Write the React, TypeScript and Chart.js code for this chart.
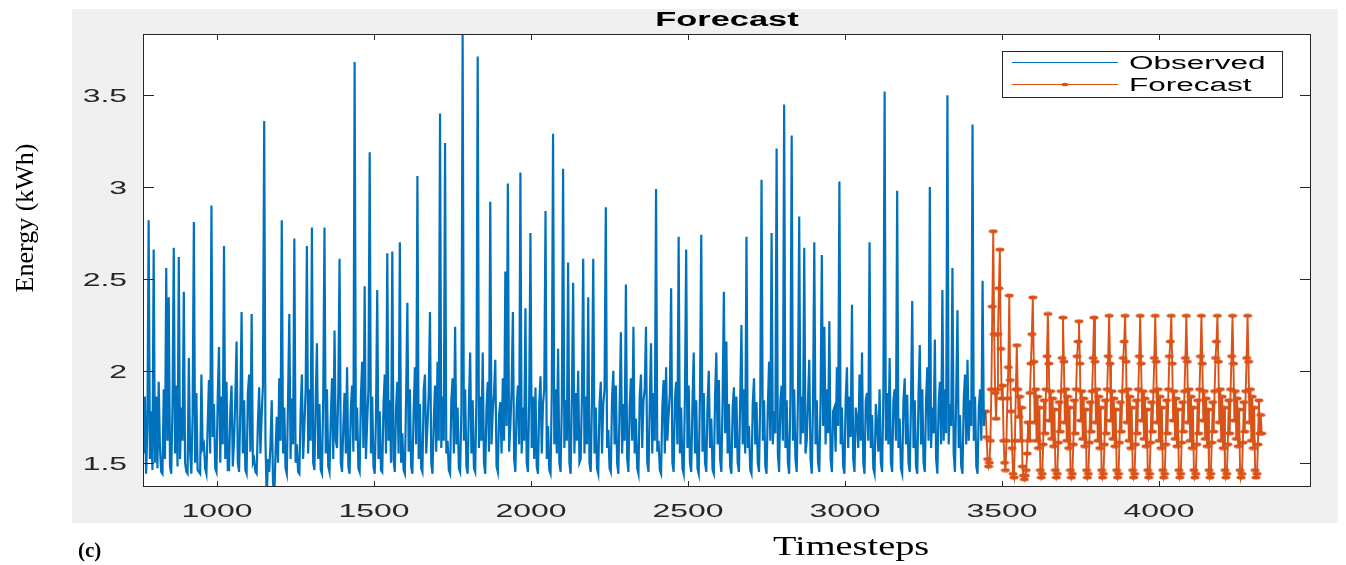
import React, { useEffect, useRef } from "react";
import { Chart, registerables } from "chart.js";
Chart.register(...registerables);

// Observed series: timestep = OBS_START + i * OBS_STEP
const OBS_START = 766;
const OBS_STEP = 4;
const observed = [
  1.55, 1.86, 1.44, 1.70, 2.82, 1.52, 1.78, 1.46, 2.66, 1.50, 1.86, 1.47, 1.94, 1.58, 1.45, 1.44, 1.90, 1.52, 2.56, 1.62,
  2.40, 1.48, 1.44, 1.82, 2.67, 1.55, 1.92, 1.48, 2.62, 1.52, 1.80, 1.62, 2.43, 1.50, 1.45, 1.44, 2.07, 1.56, 1.44, 1.76,
  2.81, 1.50, 1.88, 1.46, 1.45, 1.44, 1.98, 1.58, 1.60, 1.47, 1.44, 1.70, 1.95, 1.55, 2.90, 1.64, 1.82, 1.47, 1.45, 1.86,
  2.13, 1.50, 1.86, 1.60, 2.68, 1.52, 1.94, 1.46, 1.46, 1.78, 1.92, 1.48, 1.62, 1.85, 2.16, 1.50, 1.45, 1.80, 2.32, 1.55,
  1.84, 1.46, 1.44, 1.88, 1.98, 1.56, 2.31, 1.50, 1.52, 1.45, 1.44, 1.72, 1.91, 1.55, 1.76, 1.92, 3.36, 1.62, 1.30, 1.52,
  1.45, 1.60, 1.84, 1.40, 1.30, 1.55, 1.75, 1.50, 1.96, 1.62, 2.82, 1.55, 1.80, 1.47, 1.44, 1.85, 2.31, 1.52, 1.85, 1.60,
  2.72, 1.50, 1.60, 1.45, 1.44, 1.78, 1.98, 1.52, 1.70, 1.90, 2.68, 1.55, 1.90, 1.62, 2.78, 1.50, 1.46, 1.84, 2.15, 1.52,
  1.82, 1.46, 1.44, 1.86, 2.78, 1.55, 1.90, 1.48, 1.45, 1.74, 1.96, 1.52, 2.22, 1.62, 1.58, 1.88, 2.61, 1.50, 1.45, 1.70,
  1.88, 1.55, 2.02, 1.48, 1.44, 1.80, 1.92, 1.56, 3.68, 1.62, 1.80, 1.47, 1.45, 1.86, 2.05, 1.58, 2.46, 1.52, 1.72, 1.90,
  3.19, 1.55, 1.86, 1.48, 1.44, 1.75, 2.44, 1.52, 1.78, 1.46, 1.45, 1.82, 1.98, 1.55, 2.64, 1.62, 1.84, 1.50, 2.65, 1.52,
  1.45, 1.80, 1.94, 1.55, 2.70, 1.50, 1.66, 1.46, 1.44, 1.86, 2.37, 1.56, 1.90, 1.48, 1.44, 1.78, 2.02, 1.60, 3.06, 1.52,
  1.82, 1.47, 1.45, 1.90, 1.98, 1.55, 1.70, 1.88, 2.32, 1.50, 1.44, 1.72, 1.92, 1.56, 2.05, 1.62, 3.40, 1.58, 1.86, 1.62,
  3.24, 1.55, 1.62, 1.46, 1.44, 1.84, 1.96, 1.55, 2.24, 1.60, 1.80, 1.47, 1.45, 1.78, 3.83, 1.62, 1.90, 1.48, 1.44, 1.82,
  2.10, 1.55, 1.84, 1.47, 1.45, 1.86, 3.71, 1.58, 1.86, 1.62, 2.10, 1.50, 1.44, 1.80, 1.94, 1.56, 2.92, 1.60, 1.78, 1.88,
  2.06, 1.48, 1.45, 1.76, 1.83, 1.55, 1.96, 1.62, 2.54, 1.70, 3.02, 1.56, 1.70, 1.90, 2.32, 1.52, 1.45, 1.80, 1.92, 1.60,
  3.08, 1.55, 1.80, 1.62, 2.34, 1.50, 1.45, 1.84, 2.75, 1.58, 1.86, 1.52, 1.91, 1.48, 1.44, 1.82, 1.97, 1.55, 1.82, 1.90,
  2.87, 1.52, 1.70, 1.46, 1.44, 1.88, 3.29, 1.60, 1.90, 1.55, 2.12, 1.50, 1.45, 1.82, 3.10, 1.58, 1.84, 1.62, 2.59, 1.50,
  1.44, 1.86, 2.48, 1.55, 1.88, 1.62, 2.00, 1.50, 1.52, 1.86, 2.61, 1.55, 1.86, 1.60, 2.40, 1.50, 1.45, 1.84, 2.61, 1.55,
  1.80, 1.47, 1.44, 1.82, 1.94, 1.55, 1.82, 1.90, 2.89, 1.58, 1.68, 1.47, 1.45, 1.86, 2.00, 1.60, 1.92, 1.50, 1.44, 1.80,
  2.21, 1.55, 1.82, 1.62, 2.47, 1.52, 1.45, 1.80, 1.96, 1.62, 2.24, 1.55, 1.74, 1.47, 1.44, 1.86, 1.98, 1.58, 1.84, 1.90,
  2.24, 1.50, 1.45, 1.82, 2.15, 1.55, 1.88, 1.62, 2.99, 1.56, 1.62, 1.46, 1.44, 1.80, 1.95, 1.55, 2.02, 1.62, 1.76, 1.88,
  2.45, 1.50, 1.45, 1.84, 1.94, 1.60, 2.73, 1.55, 1.80, 1.47, 1.44, 1.86, 2.66, 1.58, 1.92, 1.50, 1.45, 1.82, 2.10, 1.55,
  1.84, 1.47, 1.44, 1.88, 2.74, 1.56, 1.88, 1.50, 1.45, 1.82, 2.00, 1.58, 1.74, 1.46, 1.44, 1.86, 2.10, 1.60, 1.95, 1.52,
  1.45, 1.84, 2.43, 1.66, 2.16, 1.55, 1.82, 1.48, 1.44, 1.80, 1.91, 1.58, 1.86, 1.50, 1.45, 1.84, 2.25, 1.60, 1.90, 1.55,
  2.73, 1.58, 1.70, 1.46, 1.44, 1.82, 1.96, 1.60, 1.83, 1.50, 1.45, 1.86, 3.04, 1.62, 1.84, 1.48, 1.44, 1.80, 2.05, 1.62,
  2.75, 1.60, 1.78, 1.66, 3.21, 1.55, 1.45, 1.84, 1.92, 1.62, 3.45, 1.58, 1.84, 1.50, 1.44, 1.86, 3.28, 1.62, 1.90, 1.52,
  1.45, 1.86, 2.84, 1.60, 1.86, 1.66, 2.67, 1.55, 1.62, 1.84, 2.06, 1.52, 1.44, 1.82, 2.70, 1.60, 1.84, 1.50, 1.45, 1.84,
  2.63, 1.70, 2.24, 1.60, 1.90, 1.66, 2.27, 1.52, 1.45, 1.78, 1.80, 1.56, 2.02, 1.70, 3.03, 1.60, 1.80, 1.48, 1.44, 1.84,
  2.02, 1.58, 1.86, 1.64, 2.36, 1.52, 1.45, 1.80, 1.74, 1.58, 1.98, 1.62, 2.10, 1.50, 1.44, 1.84, 1.88, 1.62, 2.70, 1.58,
  1.76, 1.47, 1.44, 1.82, 1.71, 1.56, 1.90, 1.50, 1.45, 1.86, 3.52, 1.62, 1.88, 1.60, 2.07, 1.50, 1.45, 1.84, 1.90, 1.62,
  2.98, 1.58, 1.74, 1.47, 1.44, 1.84, 1.96, 1.60, 1.87, 1.50, 1.45, 1.82, 2.38, 1.58, 1.84, 1.48, 1.44, 1.86, 2.14, 1.60,
  1.90, 1.50, 1.45, 1.84, 2.02, 1.62, 3.00, 1.58, 1.80, 1.66, 2.17, 1.52, 1.44, 1.82, 1.94, 1.60, 2.44, 1.62, 1.90, 1.66,
  3.50, 1.60, 1.82, 1.70, 2.56, 1.55, 1.45, 1.86, 2.33, 1.58, 1.76, 1.48, 1.44, 1.84, 1.98, 1.60, 2.06, 1.62, 1.84, 1.70,
  3.34, 1.62, 1.86, 1.48, 1.44, 1.80, 1.90, 1.62, 2.49, 1.70, 1.78,
];

// Forecast series: timestep = FC_START + j * FC_STEP
const FC_START = 3448;
const FC_STEP = 3;
const forecast = [
  1.78, 1.64, 1.52, 1.48, 1.50, 1.62, 1.90, 2.35, 2.76, 2.20,
  1.88, 1.74, 1.90, 2.20, 2.45, 2.66, 2.12, 1.85, 1.92, 1.62,
  1.50, 1.46, 1.62, 1.85, 2.02, 2.41, 1.95, 1.78, 1.58, 1.44,
  1.42, 1.62, 1.90, 2.14, 1.90, 1.75, 1.86, 1.62, 1.80, 1.48,
  1.43, 1.41, 1.43, 1.46, 1.55, 1.72, 1.62, 1.88, 2.04, 2.20,
  2.40,
  2.05, 1.72, 1.90, 1.62, 1.86, 1.58, 1.80, 1.46, 1.42, 1.44, 1.60, 1.84, 1.66, 1.90, 2.08, 2.31,
  2.04, 1.73, 1.89, 1.63, 1.85, 1.59, 1.79, 1.46, 1.42, 1.44, 1.61, 1.83, 1.67, 1.89, 2.07, 2.29,
  2.05, 1.72, 1.90, 1.62, 1.86, 1.58, 1.80, 1.46, 1.42, 1.44, 1.60, 1.84, 1.66, 1.90, 2.08, 2.16, 2.27,
  2.04, 1.73, 1.89, 1.63, 1.85, 1.59, 1.79, 1.46, 1.42, 1.44, 1.61, 1.83, 1.67, 1.89, 2.07, 2.29,
  2.05, 1.72, 1.90, 1.62, 1.86, 1.58, 1.80, 1.46, 1.42, 1.44, 1.60, 1.84, 1.66, 1.90, 2.08, 2.30,
  2.04, 1.73, 1.89, 1.63, 1.85, 1.59, 1.79, 1.46, 1.42, 1.44, 1.61, 1.83, 1.67, 1.89, 2.07, 2.16, 2.30,
  2.05, 1.72, 1.90, 1.62, 1.86, 1.58, 1.80, 1.46, 1.42, 1.44, 1.60, 1.84, 1.66, 1.90, 2.08, 2.30,
  2.04, 1.73, 1.89, 1.63, 1.85, 1.59, 1.79, 1.46, 1.42, 1.44, 1.61, 1.83, 1.67, 1.89, 2.07, 2.30,
  2.05, 1.72, 1.90, 1.62, 1.86, 1.58, 1.80, 1.46, 1.42, 1.44, 1.60, 1.84, 1.66, 1.90, 2.08, 2.16, 2.30,
  2.04, 1.73, 1.89, 1.63, 1.85, 1.59, 1.79, 1.46, 1.42, 1.44, 1.61, 1.83, 1.67, 1.89, 2.07, 2.30,
  2.05, 1.72, 1.90, 1.62, 1.86, 1.58, 1.80, 1.46, 1.42, 1.44, 1.60, 1.84, 1.66, 1.90, 2.08, 2.30,
  2.04, 1.73, 1.89, 1.63, 1.85, 1.59, 1.79, 1.46, 1.42, 1.44, 1.61, 1.83, 1.67, 1.89, 2.07, 2.16, 2.30,
  2.05, 1.72, 1.90, 1.62, 1.86, 1.58, 1.80, 1.46, 1.42, 1.44, 1.60, 1.84, 1.66, 1.90, 2.08, 2.30,
  2.04, 1.73, 1.89, 1.63, 1.85, 1.59, 1.79, 1.46, 1.42, 1.44, 1.61, 1.83, 1.67, 1.89, 2.07, 2.30,
  2.05, 1.72, 1.90, 1.62, 1.86, 1.58, 1.80, 1.46, 1.42, 1.44, 1.60, 1.84, 1.66, 1.76, 1.66,
];

const xTicks = [1000, 1500, 2000, 2500, 3000, 3500, 4000];
const xTickLabels = ["1000", "1500", "2000", "2500", "3000", "3500", "4000"];
const yTicks = [1.5, 2, 2.5, 3, 3.5];
const yTickLabels = ["1.5", "2", "2.5", "3", "3.5"];
const seriesNames = ["Observed", "Forecast"];

const X_MIN = 764;
const X_MAX = 4484;
const Y_MIN = 1.368;
const Y_MAX = 3.833;

const BLUE = "#0072BD";
const ORANGE = "#D95319";
const AXIS = "#262626";
const SANS = '"Liberation Sans", Arial, Helvetica, sans-serif';
const SERIF = '"Liberation Serif", "Times New Roman", serif';

function makeMarker(): HTMLCanvasElement {
  const c = document.createElement("canvas");
  c.width = 10;
  c.height = 5;
  const g = c.getContext("2d")!;
  g.fillStyle = ORANGE;
  g.beginPath();
  g.ellipse(5, 2.5, 4.5, 2, 0, 0, Math.PI * 2);
  g.fill();
  return c;
}

function sText(ctx: CanvasRenderingContext2D, text: string, x: number, y: number, align: CanvasTextAlign, font: string, sx: number, color: string) {
  ctx.save();
  ctx.font = font;
  ctx.fillStyle = color;
  ctx.textBaseline = "alphabetic";
  ctx.textAlign = align;
  ctx.translate(x, y);
  ctx.scale(sx, 1);
  ctx.fillText(text, 0, 0);
  ctx.restore();
}

const decorPlugin = {
  id: "matlabDecor",
  beforeDraw(chart: any) {
    const ctx: CanvasRenderingContext2D = chart.ctx;
    const a = chart.chartArea;
    ctx.save();
    ctx.fillStyle = "#ffffff";
    ctx.fillRect(0, 0, chart.width, chart.height);
    ctx.fillStyle = "#f0f0f0";
    ctx.fillRect(72, 9, 1266, 514);
    ctx.fillStyle = "#ffffff";
    ctx.fillRect(a.left, a.top, a.right - a.left, a.bottom - a.top);
    ctx.restore();
  },
  afterDatasetsDraw(chart: any) {
    const ctx: CanvasRenderingContext2D = chart.ctx;
    const a = chart.chartArea;
    const xs = chart.scales.x;
    const ys = chart.scales.y;
    ctx.save();
    ctx.strokeStyle = AXIS;
    ctx.lineWidth = 1;
    ctx.strokeRect(a.left + 0.5, a.top + 0.5, a.right - a.left - 1, a.bottom - a.top - 1);
    ctx.beginPath();
    xTicks.forEach((v) => {
      const px = Math.round(xs.getPixelForValue(v)) + 0.5;
      ctx.moveTo(px, a.bottom);
      ctx.lineTo(px, a.bottom - 6);
      ctx.moveTo(px, a.top);
      ctx.lineTo(px, a.top + 6);
    });
    yTicks.forEach((v) => {
      const py = Math.round(ys.getPixelForValue(v)) + 0.5;
      ctx.moveTo(a.left, py);
      ctx.lineTo(a.left + 11, py);
      ctx.moveTo(a.right, py);
      ctx.lineTo(a.right - 11, py);
    });
    ctx.stroke();
    ctx.restore();

    xTicks.forEach((v, i) => {
      sText(ctx, xTickLabels[i], xs.getPixelForValue(v), 517, "center", `19px ${SANS}`, 1.68, AXIS);
    });
    yTicks.forEach((v, i) => {
      sText(ctx, yTickLabels[i], 127, ys.getPixelForValue(v) + 7, "right", `19px ${SANS}`, 1.68, AXIS);
    });

    sText(ctx, "Forecast", (a.left + a.right) / 2, 26, "center", `bold 20px ${SANS}`, 1.72, "#000000");

    ctx.save();
    ctx.fillStyle = "#ffffff";
    ctx.fillRect(1002, 51, 280, 46);
    ctx.strokeStyle = AXIS;
    ctx.lineWidth = 1;
    ctx.strokeRect(1002.5, 51.5, 280, 46);
    ctx.lineWidth = 1.2;
    ctx.strokeStyle = BLUE;
    ctx.beginPath();
    ctx.moveTo(1012, 62.5);
    ctx.lineTo(1118, 62.5);
    ctx.stroke();
    ctx.strokeStyle = ORANGE;
    ctx.beginPath();
    ctx.moveTo(1012, 84.5);
    ctx.lineTo(1118, 84.5);
    ctx.stroke();
    ctx.fillStyle = ORANGE;
    ctx.beginPath();
    ctx.ellipse(1065, 84.5, 3.6, 1.8, 0, 0, Math.PI * 2);
    ctx.fill();
    ctx.restore();
    sText(ctx, seriesNames[0], 1129, 69, "left", `18px ${SANS}`, 1.75, "#000000");
    sText(ctx, seriesNames[1], 1129, 91, "left", `18px ${SANS}`, 1.75, "#000000");

    ctx.save();
    ctx.translate(33, 218);
    ctx.rotate(-Math.PI / 2);
    ctx.font = `26px ${SERIF}`;
    ctx.fillStyle = "#000000";
    ctx.textAlign = "center";
    ctx.textBaseline = "alphabetic";
    ctx.fillText("Energy (kWh)", 0, 0);
    ctx.restore();

    sText(ctx, "Timesteps", 773, 555, "left", `27px ${SERIF}`, 1.42, "#000000");
    sText(ctx, "(c)", 78, 557, "left", `bold 21px ${SERIF}`, 1.0, "#000000");
  },
};

export default function App() {
  const canvasRef = useRef<HTMLCanvasElement | null>(null);

  useEffect(() => {
    const canvas = canvasRef.current;
    if (!canvas) return;
    const obsData = observed.map((v, i) => ({ x: OBS_START + i * OBS_STEP, y: v }));
    const fcData = forecast.map((v, j) => ({ x: FC_START + j * FC_STEP, y: v }));
    const marker = makeMarker();
    const chart = new Chart(canvas, {
      type: "line",
      data: {
        datasets: [
          {
            label: seriesNames[0],
            data: obsData,
            borderColor: BLUE,
            backgroundColor: BLUE,
            borderWidth: 2.2,
            pointRadius: 0,
            tension: 0,
          },
          {
            label: seriesNames[1],
            data: fcData,
            borderColor: ORANGE,
            backgroundColor: ORANGE,
            borderWidth: 1.9,
            pointRadius: 3,
            pointStyle: marker as any,
            tension: 0,
          },
        ],
      },
      options: {
        responsive: false,
        animation: false,
        devicePixelRatio: 1,
        events: [],
        layout: { padding: { left: 143, right: 35, top: 34, bottom: 78 } },
        scales: {
          x: { type: "linear", min: X_MIN, max: X_MAX, display: false },
          y: { type: "linear", min: Y_MIN, max: Y_MAX, display: false },
        },
        plugins: {
          legend: { display: false },
          title: { display: false },
          tooltip: { enabled: false },
        },
      },
      plugins: [decorPlugin],
    });
    return () => chart.destroy();
  }, []);

  return (
    <div style={{ position: "absolute", left: 0, top: 0, width: 1346, height: 565, background: "#fff" }}>
      <canvas ref={canvasRef} width={1346} height={565} style={{ display: "block" }} />
    </div>
  );
}
